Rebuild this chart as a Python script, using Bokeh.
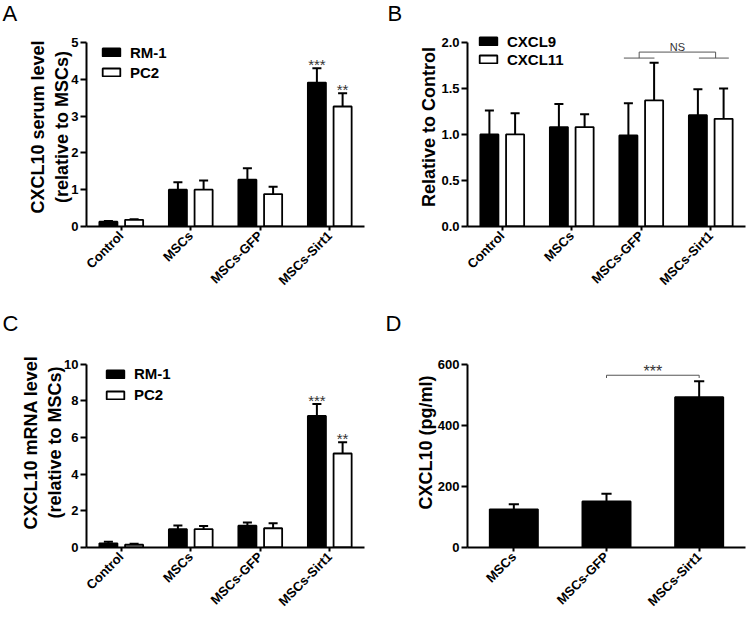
import math
from bokeh.plotting import figure
from bokeh.models import (FactorRange, Range1d, FixedTicker, Legend,
                          LegendItem, ColumnDataSource, NumeralTickFormatter)
from bokeh.transform import dodge
from bokeh.layouts import column, row
from bokeh.embed import file_html
from bokeh.resources import INLINE
from bokeh.core.properties import value

FONT = "Liberation Sans"

# ---------------- data ----------------
groups4 = ["Control", "MSCs", "MSCs-GFP", "MSCs-Sirt1"]
groups3 = ["MSCs", "MSCs-GFP", "MSCs-Sirt1"]

a_series = ["RM-1", "PC2"]
a_rm1 = [0.13, 1.00, 1.27, 3.91]
a_rm1_err = [0.02, 0.20, 0.31, 0.39]
a_pc2 = [0.18, 1.00, 0.88, 3.26]
a_pc2_err = [0.02, 0.25, 0.20, 0.36]
a_ticks = [0, 1, 2, 3, 4, 5]
a_stars = ["***", "**"]

b_series = ["CXCL9", "CXCL11"]
b_cxcl9 = [1.00, 1.08, 0.99, 1.21]
b_cxcl9_err = [0.26, 0.25, 0.35, 0.28]
b_cxcl11 = [1.00, 1.08, 1.37, 1.17]
b_cxcl11_err = [0.23, 0.14, 0.41, 0.33]
b_ticks = [0, 0.5, 1.0, 1.5, 2.0]
b_ns_levels = [1.83, 1.895]

c_series = ["RM-1", "PC2"]
c_rm1 = [0.23, 1.00, 1.19, 7.18]
c_rm1_err = [0.09, 0.20, 0.18, 0.65]
c_pc2 = [0.15, 1.00, 1.05, 5.13]
c_pc2_err = [0.05, 0.18, 0.27, 0.62]
c_ticks = [0, 2, 4, 6, 8, 10]
c_stars = ["***", "**"]

d_vals = [125, 151, 492]
d_err = [17, 25, 52]
d_ticks = [0, 200, 400, 600]
d_bracket_levels = [555, 564]

STAR_COLOR = "#333333"
BR_COLOR = "#555555"

FRAME_TOP = 26          # px from the top of each figure to its plot frame


def base_fig(factors, y_top, ticks, ylabel, width, height, left, frame_w, axis_len, gap,
             letter, letter_dx, label_standoff):
    frame_h = axis_len + gap
    y_end = y_top * frame_h / axis_len
    p = figure(x_range=FactorRange(*factors), y_range=Range1d(0, y_end),
               width=width, height=height, output_backend="svg", toolbar_location=None,
               min_border_left=left, min_border_top=FRAME_TOP,
               min_border_right=width - left - frame_w,
               min_border_bottom=height - FRAME_TOP - frame_h)
    p.xgrid.visible = False
    p.ygrid.visible = False
    p.outline_line_color = None
    p.x_range.range_padding = 0
    for ax in (p.xaxis[0], p.yaxis[0]):
        ax.axis_line_width = 2
        ax.axis_line_color = "black"
        ax.major_tick_line_width = 2
        ax.major_tick_line_color = "black"
        ax.major_tick_in = 0
        ax.minor_tick_line_color = None
        ax.major_label_text_font = FONT
        ax.major_label_text_font_style = "bold"
        ax.major_label_text_color = "black"
    ya = p.yaxis[0]
    ya.bounds = (0, y_top)
    ya.ticker = FixedTicker(ticks=ticks)
    ya.major_tick_out = 6
    ya.major_label_text_font_size = "13px"
    ya.major_label_standoff = 2
    ya.axis_label = ylabel
    ya.axis_label_text_font = FONT
    ya.axis_label_text_font_style = "bold"
    ya.axis_label_text_font_size = "18px"
    ya.axis_label_text_color = "black"
    ya.axis_label_standoff = label_standoff
    xa = p.xaxis[0]
    xa.major_tick_out = 4
    xa.major_label_orientation = math.pi / 4
    xa.major_label_text_font_size = "13px"
    xa.major_label_standoff = 3
    p.title.text = letter
    p.title.align = "left"
    p.title.vertical_align = "top"
    p.title.offset = letter_dx
    p.title.standoff = 0
    p.title.text_font = FONT
    p.title.text_font_style = "normal"
    p.title.text_font_size = "22px"
    p.title.text_color = "black"
    return p


def grouped(p, factors, v1, e1, v2, e2, names, leg_loc, leg_h, bw=0.26, off=0.185, cap=0.065):
    src = ColumnDataSource(dict(cat=factors, v1=v1, v2=v2,
                                h1=[a + b for a, b in zip(v1, e1)],
                                h2=[a + b for a, b in zip(v2, e2)]))
    rs = []
    for vk, hk, o, fill in (("v1", "h1", -off, "black"), ("v2", "h2", off, "white")):
        p.segment(x0=dodge("cat", o, range=p.x_range), y0=vk, x1=dodge("cat", o, range=p.x_range), y1=hk,
                  source=src, line_color="black", line_width=2)
        p.segment(x0=dodge("cat", o - cap, range=p.x_range), y0=hk, x1=dodge("cat", o + cap, range=p.x_range), y1=hk,
                  source=src, line_color="black", line_width=2)
        r = p.vbar(x=dodge("cat", o, range=p.x_range), top=vk, width=bw, source=src,
                   fill_color=fill, line_color="black", line_width=1.8)
        rs.append(r)
    leg = Legend(items=[LegendItem(label=names[0], renderers=[rs[0]]),
                        LegendItem(label=names[1], renderers=[rs[1]])],
                 location=leg_loc, padding=0, margin=0, spacing=0,
                 label_height=leg_h, glyph_height=10, glyph_width=22, label_standoff=8,
                 label_text_font=FONT, label_text_font_style="bold", label_text_font_size="15px",
                 label_text_color="black",
                 border_line_color=None, background_fill_alpha=0)
    p.add_layout(leg)
    return src


def stars(p, cat, off, y, txt, size="15px"):
    s = ColumnDataSource(dict(cat=[cat], y=[y], t=[txt]))
    p.text(x=dodge("cat", off, range=p.x_range), y="y", text="t", source=s, y_offset=-4,
           text_font=value(FONT), text_font_size=size, text_align="center",
           text_baseline="alphabetic", text_color=STAR_COLOR)


def seg(p, c0, o0, y0, c1, o1, y1):
    s = ColumnDataSource(dict(a=[c0], b=[c1], y0=[y0], y1=[y1]))
    p.segment(x0=dodge("a", o0, range=p.x_range), y0="y0", x1=dodge("b", o1, range=p.x_range), y1="y1",
              source=s, line_color=BR_COLOR, line_width=1)


# ---------------- Panel A ----------------
pA = base_fig(groups4, 5, a_ticks, "CXCL10 serum level\n(relative to MSCs)",
              375, 310, 86, 278, 185, 15, "A", -84, -4)
grouped(pA, groups4, a_rm1, a_rm1_err, a_pc2, a_pc2_err, a_series, (14, 144), 20)
stars(pA, groups4[3], -0.185, a_rm1[3] + a_rm1_err[3], a_stars[0])
stars(pA, groups4[3], 0.185, a_pc2[3] + a_pc2_err[3], a_stars[1])

# ---------------- Panel B ----------------
pB = base_fig(groups4, 2.0, b_ticks, "Relative to Control",
              375, 310, 92, 278, 185, 15, "B", -80, -1)
pB.yaxis[0].formatter = NumeralTickFormatter(format="0.0")
grouped(pB, groups4, b_cxcl9, b_cxcl9_err, b_cxcl11, b_cxcl11_err, b_series, (10, 158), 18)
lo, hi = b_ns_levels
seg(pB, groups4[2], -0.25, lo, groups4[2], 0.19, lo)
seg(pB, groups4[3], -0.17, lo, groups4[3], 0.26, lo)
seg(pB, groups4[2], -0.03, lo, groups4[2], -0.03, hi)
seg(pB, groups4[3], 0.07, lo, groups4[3], 0.07, hi)
seg(pB, groups4[2], -0.03, hi, groups4[3], 0.07, hi)
sB = ColumnDataSource(dict(cat=[groups4[2]], y=[hi], t=["NS"]))
pB.text(x=dodge("cat", 0.52, range=pB.x_range), y="y", text="t", source=sB, y_offset=-5,
        text_font=value(FONT), text_font_size="11px", text_align="center",
        text_baseline="alphabetic", text_color="#333333")

# ---------------- Panel C ----------------
pC = base_fig(groups4, 10, c_ticks, "CXCL10 mRNA level\n(relative to MSCs)",
              375, 307, 86, 278, 185, 27, "C", -84, -4)
grouped(pC, groups4, c_rm1, c_rm1_err, c_pc2, c_pc2_err, c_series, (18, 142), 21)
stars(pC, groups4[3], -0.185, c_rm1[3] + c_rm1_err[3], c_stars[0])
stars(pC, groups4[3], 0.185, c_pc2[3] + c_pc2_err[3], c_stars[1])

# ---------------- Panel D ----------------
pD = base_fig(groups3, 600, d_ticks, "CXCL10 (pg/ml)",
              375, 307, 92, 278, 185, 27, "D", -82, -1)
sD = ColumnDataSource(dict(cat=groups3, v=d_vals, h=[a + b for a, b in zip(d_vals, d_err)]))
pD.segment(x0="cat", y0="v", x1="cat", y1="h", source=sD, line_color="black", line_width=2)
pD.segment(x0=dodge("cat", -0.055, range=pD.x_range), y0="h", x1=dodge("cat", 0.055, range=pD.x_range), y1="h",
           source=sD, line_color="black", line_width=2)
pD.vbar(x="cat", top="v", width=0.52, source=sD, fill_color="black", line_color="black", line_width=1.8)
dlo, dhi = d_bracket_levels
seg(pD, groups3[1], 0, dlo, groups3[1], 0, dhi)
seg(pD, groups3[2], 0, dlo, groups3[2], 0, dhi)
seg(pD, groups3[1], 0, dhi, groups3[2], 0, dhi)
stars(pD, groups3[1], 0.5, dhi, "***", "16px")

layout = column(row(pA, pB), row(pC, pD))
open("out.html", "w").write(file_html(layout, INLINE))
